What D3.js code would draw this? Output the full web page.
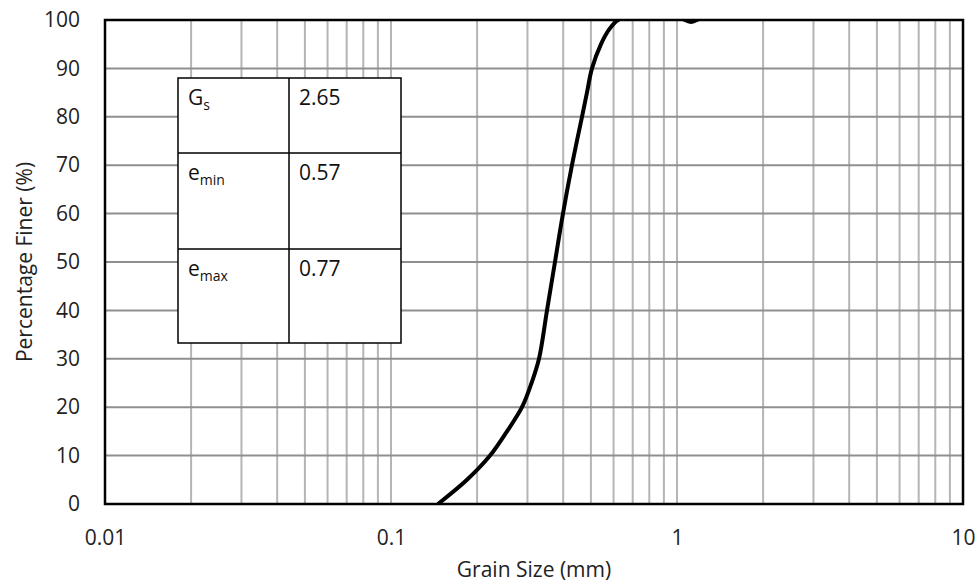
<!DOCTYPE html>
<html>
<head>
<meta charset="utf-8">
<script src="https://cdn.jsdelivr.net/npm/d3@7"></script>
<style>
  html, body { margin: 0; padding: 0; background: #fff; }
  svg { display: block; font-family: "Open Sans", sans-serif; }
</style>
</head>
<body>
<svg id="chart" width="977" height="584"></svg>
<script>
// grain size distribution (mm, % finer)
const grainSize = [0.146, 0.1844, 0.222, 0.2544, 0.2871, 0.3100, 0.3292, 0.3511, 0.3744, 0.3993, 0.4293, 0.4654, 0.4844, 0.5044, 0.5424, 0.5784, 0.6218, 0.68, 1.0, 1.12, 1.25, 2.0];
const percentFiner = [0, 5, 10, 15, 20, 25, 30, 40, 50, 60, 70, 80, 85, 90, 95, 98, 100, 100.6, 100.6, 99.6, 100.6, 100.6];

const xTicks = [0.01, 0.1, 1, 10];
const xTickLabels = ['0.01', '0.1', '1', '10'];
const yTicks = [0, 10, 20, 30, 40, 50, 60, 70, 80, 90, 100];

// property table
const propNames = ['G', 'e', 'e'];
const propSubs = ['s', 'min', 'max'];
const propValues = ['2.65', '0.57', '0.77'];

const width = 977;
const height = 584;
const margin = { top: 20, right: 14, bottom: 80, left: 105 };

const svg = d3.select('#chart');

const x = d3.scaleLog()
  .domain([0.01, 10])
  .range([margin.left, width - margin.right]);

const y = d3.scaleLinear()
  .domain([0, 100])
  .range([height - margin.bottom, margin.top]);

// minor log gridlines
const minor = [];
[0.01, 0.1, 1].forEach(dec => {
  for (let k = 1; k <= 9; k++) minor.push(dec * k);
});

svg.append('g')
  .selectAll('line')
  .data(minor.filter(v => v > 0.01))
  .enter()
  .append('line')
  .attr('x1', d => x(d))
  .attr('x2', d => x(d))
  .attr('y1', y(0))
  .attr('y2', y(100))
  .attr('stroke', '#b5b5b5')
  .attr('stroke-width', 2);

svg.append('g')
  .selectAll('line')
  .data(yTicks.filter(v => v > 0 && v < 100))
  .enter()
  .append('line')
  .attr('x1', x(0.01))
  .attr('x2', x(10))
  .attr('y1', d => y(d))
  .attr('y2', d => y(d))
  .attr('stroke', '#8f8f8f')
  .attr('stroke-width', 2);

// table
const colX = [178, 289, 401];
const rowY = [78, 153, 249, 343];

const table = svg.append('g');
table.append('rect')
  .attr('x', colX[0])
  .attr('y', rowY[0])
  .attr('width', colX[2] - colX[0])
  .attr('height', rowY[3] - rowY[0])
  .attr('fill', '#fff')
  .attr('stroke', '#000')
  .attr('stroke-width', 1.5);

table.append('line')
  .attr('x1', colX[1]).attr('x2', colX[1])
  .attr('y1', rowY[0]).attr('y2', rowY[3])
  .attr('stroke', '#000').attr('stroke-width', 1.5);

table.selectAll('.row-line')
  .data([rowY[1], rowY[2]])
  .enter()
  .append('line')
  .attr('x1', colX[0]).attr('x2', colX[2])
  .attr('y1', d => d).attr('y2', d => d)
  .attr('stroke', '#000').attr('stroke-width', 1.5);

propNames.forEach((name, i) => {
  const t = table.append('text')
    .attr('x', colX[0] + 10)
    .attr('y', rowY[i] + 27)
    .attr('font-size', 21)
    .attr('fill', '#111');
  t.append('tspan').text(name);
  t.append('tspan')
    .attr('font-size', 14)
    .attr('dy', 5)
    .text(propSubs[i]);

  table.append('text')
    .attr('x', colX[1] + 10)
    .attr('y', rowY[i] + 27)
    .attr('font-size', 21)
    .attr('fill', '#111')
    .text(propValues[i]);
});

// curve
svg.append('clipPath')
  .attr('id', 'plot-clip')
  .append('rect')
  .attr('x', x(0.01))
  .attr('y', y(100))
  .attr('width', x(10) - x(0.01))
  .attr('height', y(0) - y(100));

const line = d3.line()
  .x(d => x(d[0]))
  .y(d => y(d[1]))
  .curve(d3.curveCatmullRom.alpha(0.5));

svg.append('path')
  .datum(grainSize.map((g, i) => [g, percentFiner[i]]))
  .attr('clip-path', 'url(#plot-clip)')
  .attr('fill', 'none')
  .attr('stroke', '#000')
  .attr('stroke-width', 4)
  .attr('stroke-linejoin', 'round')
  .attr('d', line);

// frame
svg.append('rect')
  .attr('x', x(0.01))
  .attr('y', y(100))
  .attr('width', x(10) - x(0.01))
  .attr('height', y(0) - y(100))
  .attr('fill', 'none')
  .attr('stroke', '#000')
  .attr('stroke-width', 2.5);

// axes
const xAxis = svg.append('g')
  .attr('transform', `translate(0, ${y(0)})`)
  .call(d3.axisBottom(x)
    .tickValues(xTicks)
    .tickFormat((d, i) => xTickLabels[i])
    .tickSize(0)
    .tickPadding(26));
xAxis.select('.domain').remove();
xAxis.selectAll('text')
  .attr('font-family', '"Open Sans", sans-serif')
  .attr('font-size', 21)
  .attr('fill', '#222');

const yAxis = svg.append('g')
  .attr('transform', `translate(${x(0.01)}, 0)`)
  .call(d3.axisLeft(y)
    .tickValues(yTicks)
    .tickSize(0)
    .tickPadding(25));
yAxis.select('.domain').remove();
yAxis.selectAll('text')
  .attr('font-family', '"Open Sans", sans-serif')
  .attr('font-size', 21)
  .attr('fill', '#222');

svg.append('text')
  .attr('x', (x(0.01) + x(10)) / 2)
  .attr('y', 577)
  .attr('text-anchor', 'middle')
  .attr('font-size', 21)
  .attr('fill', '#222')
  .text('Grain Size (mm)');

svg.append('text')
  .attr('transform', `translate(32, ${(y(0) + y(100)) / 2}) rotate(-90)`)
  .attr('text-anchor', 'middle')
  .attr('font-size', 21)
  .attr('fill', '#222')
  .text('Percentage Finer (%)');
</script>
</body>
</html>
